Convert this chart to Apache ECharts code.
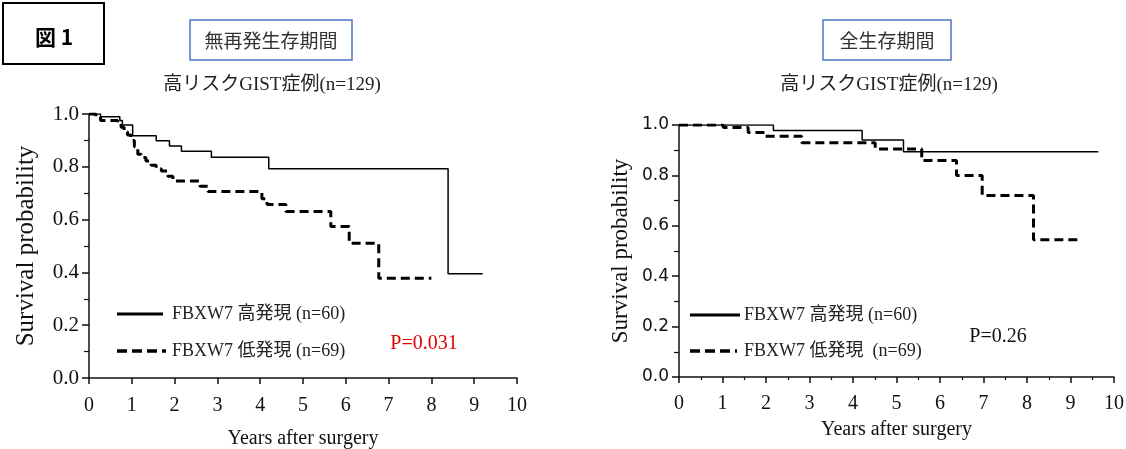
<!DOCTYPE html>
<html><head><meta charset="utf-8">
<script src="https://cdn.jsdelivr.net/npm/echarts@6/dist/echarts.min.js"></script>
<style>html,body{margin:0;padding:0;background:#fff}#c{width:1126px;height:449px}</style>
</head><body><div id="c"></div>
<script>
// ---- data (years, survival probability) ----
const rfsHigh = [[0,1],[0.27,0.99],[0.72,0.975],[0.78,0.958],[1.02,0.918],[1.57,0.899],[1.88,0.879],[2.16,0.859],[2.86,0.836],[4.2,0.793],[8.39,0.395],[9.2,0.395]];
const rfsLow = [[0,1],[0.16,0.99],[0.27,0.975],[0.67,0.964],[0.75,0.95],[0.82,0.933],[0.9,0.92],[0.98,0.9],[1.06,0.876],[1.14,0.848],[1.22,0.835],[1.33,0.822],[1.45,0.806],[1.57,0.793],[1.69,0.784],[1.84,0.764],[1.96,0.746],[2.59,0.726],[2.78,0.706],[4.04,0.679],[4.16,0.657],[4.6,0.631],[5.65,0.574],[6.08,0.51],[6.77,0.378],[8.0,0.378]];
const osHigh = [[0,1],[2.17,0.978],[4.21,0.94],[5.16,0.894],[9.64,0.894]];
const osLow = [[0,1],[1.02,0.99],[1.59,0.97],[1.98,0.955],[2.82,0.93],[4.51,0.905],[5.58,0.859],[6.38,0.8],[6.97,0.72],[8.15,0.545],[9.26,0.545]];
const xTickLabels = ['0','1','2','3','4','5','6','7','8','9','10'];
const yTickLabels = ['0.0','0.2','0.4','0.6','0.8','1.0'];
const panelTitles = ['無再発生存期間','全生存期間'];
const subTitle = '高リスクGIST症例(n=129)';
const legendNames = ['FBXW7 高発現 (n=60)','FBXW7 低発現 (n=69)','FBXW7 低発現  (n=69)'];
const pValues = ['P=0.031','P=0.26'];
const figLabel = '図 1';

const serif = "'Liberation Serif','Times New Roman','Noto Sans CJK JP',serif";
const cjk = "'Noto Sans CJK JP','Liberation Serif',sans-serif";
const sans = "'DejaVu Sans',Verdana,sans-serif";

const chart = echarts.init(document.getElementById('c'));

function xAx(grid, minor){
  return {type:'value',gridIndex:grid,min:0,max:10,interval:1,
    name:'Years after surgery',nameLocation:'middle',nameGap:grid===0?51:43,
    nameTextStyle:{fontFamily:serif,fontSize:20,color:'#111'},
    axisLine:{show:true,onZero:false,lineStyle:{color:'#111',width:1.5}},
    axisTick:{show:true,length:6,lineStyle:{color:'#111',width:1.5}},
    minorTick:{show:minor,splitNumber:2,length:3,lineStyle:{color:'#111',width:1.2}},
    axisLabel:{fontFamily:serif,fontSize:20,color:'#111',margin:grid===0?18:17,formatter:v=>xTickLabels[Math.round(v)]},
    splitLine:{show:false}};
}
function yAx(grid, font, size){
  return {type:'value',gridIndex:grid,min:0,max:1,interval:0.2,
    name:'Survival probability',nameLocation:'middle',nameGap:grid===0?50:47,
    nameTextStyle:{fontFamily:serif,fontSize:grid===0?25:23,color:'#111'},
    axisLine:{show:true,onZero:false,lineStyle:{color:'#111',width:1.5}},
    axisTick:{show:true,length:7,lineStyle:{color:'#111',width:1.5}},
    minorTick:{show:true,splitNumber:2,length:5,lineStyle:{color:'#111',width:1.2}},
    axisLabel:{fontFamily:font,fontSize:size,color:'#111',margin:10,formatter:v=>yTickLabels[Math.round(v*5)]},
    splitLine:{show:false}};
}
function km(data, xi, dashed){
  return {type:'line',xAxisIndex:xi,yAxisIndex:xi,data:data,step:'end',showSymbol:false,symbol:'none',
    silent:true,animation:false,
    lineStyle:{color:'#000',width:dashed?3:1.5,type:dashed?[9,5]:'solid'}};
}

const g = [];
function txt(t,x,y,font,size,color,align,weight){
  g.push({type:'text',silent:true,style:{text:t,x:x,y:y,align:align||'center',verticalAlign:'middle',
    font:(weight||'normal')+' '+size+'px '+font,fill:color||'#111'}});
}
function rect(x,y,w,h,color,lw){
  g.push({type:'rect',silent:true,shape:{x:x,y:y,width:w,height:h},style:{fill:'none',stroke:color,lineWidth:lw}});
}
function seg(x1,x2,y,dashed){
  g.push({type:'line',silent:true,shape:{x1:x1,y1:y,x2:x2,y2:y},style:{stroke:'#000',lineWidth:dashed?3.5:3,lineDash:dashed?[10,5]:null}});
}
rect(3,3,101,61,'#000',2);
txt(figLabel,54,37,cjk,21,'#000','center','bold');
rect(190,20,162,40,'#4A78C8',1.5);
txt(panelTitles[0],271,41,cjk,19,'#333');
rect(823,20,128,40,'#4A78C8',1.5);
txt(panelTitles[1],887,41,cjk,19,'#333');
txt(subTitle,272,85,serif,19,'#222');
txt(subTitle,889,85,serif,19,'#222');
// legends
seg(117,163,314,false); txt(legendNames[0],172,314,serif,18,'#222','left');
seg(117,166,351,true); txt(legendNames[1],172,351,serif,18,'#222','left');
txt(pValues[0],424,344,serif,20,'#e00000');
seg(690,740,315,false); txt(legendNames[0],744,315,serif,18,'#222','left');
seg(690,737,351,true); txt(legendNames[2],744,351,serif,18,'#222','left');
txt(pValues[1],998,337,serif,20,'#111');

chart.setOption({
  animation:false,
  backgroundColor:'#fff',
  grid:[{left:89,top:114,width:428,height:264,containLabel:false,outerBoundsMode:'none'},
        {left:679,top:125,width:435,height:252,containLabel:false,outerBoundsMode:'none'}],
  xAxis:[xAx(0,false),xAx(1,true)],
  yAxis:[yAx(0,serif,21),yAx(1,sans,17)],
  series:[km(rfsHigh,0,false),km(rfsLow,0,true),km(osHigh,1,false),km(osLow,1,true)],
  graphic:g
});
</script></body></html>
